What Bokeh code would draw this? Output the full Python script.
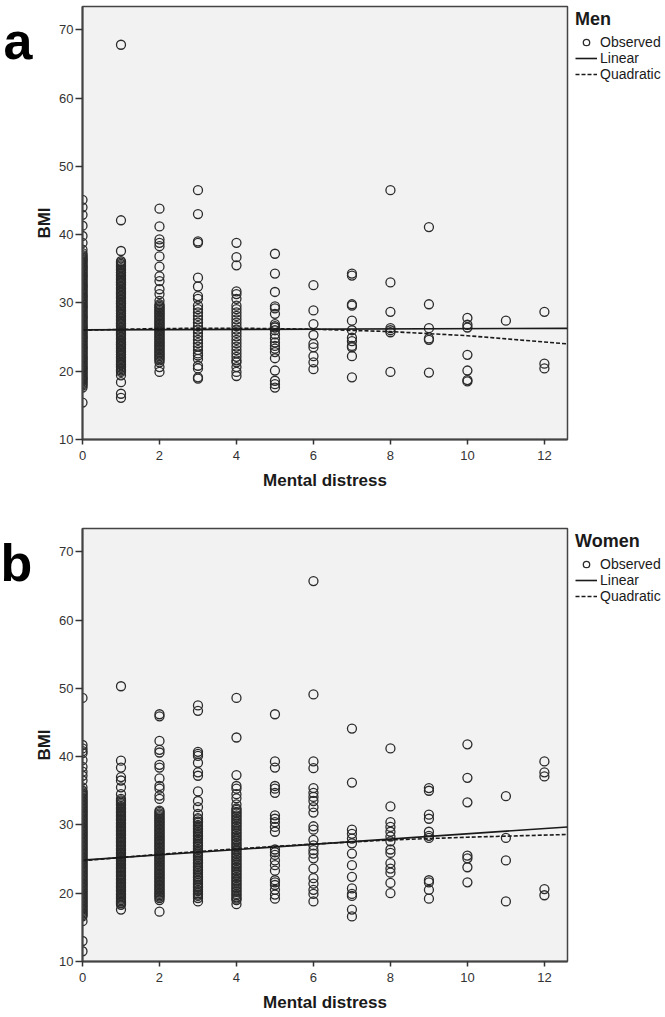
from bokeh.plotting import figure
from bokeh.models import Range1d, Legend, LegendItem, Label, FixedTicker
from bokeh.layouts import column
from bokeh.embed import file_html
from bokeh.resources import INLINE

# ---------------- data: BMI observations per mental-distress level ----------------
MEN_0 = [45.1, 44.0, 42.9, 41.3, 39.8, 38.8, 37.8, 37.3, 37.0, 36.6, 36.3, 35.9, 35.5, 35.2, 34.8,
         34.4, 34.0, 33.7, 33.3, 32.9, 32.5, 32.2, 31.8, 31.4, 31.0, 30.7, 30.3, 29.9, 29.5, 29.2,
         28.8, 28.4, 28.0, 27.7, 27.3, 26.9, 26.5, 26.2, 25.8, 25.4, 25.0, 24.7, 24.3, 23.9, 23.5,
         23.2, 22.8, 22.4, 22.0, 21.7, 21.3, 20.9, 20.5, 20.2, 19.8, 19.4, 19.0, 18.7, 18.3, 17.9,
         17.6, 15.4,
         36.8, 36.4, 36.1, 35.7, 35.3, 35.0, 34.6, 34.2, 33.9, 33.5, 33.1, 32.7, 32.4, 32.0, 31.6,
         31.2, 30.9, 30.5, 30.1, 29.7, 29.4, 29.0, 28.6, 28.2, 27.9, 27.5, 27.1, 26.7, 26.4, 26.0,
         25.6, 25.2, 24.9, 24.5, 24.1, 23.7, 23.4, 23.0, 22.6, 22.2, 21.9, 21.5, 21.1, 20.7, 20.4,
         20.0, 19.6, 19.2, 18.9, 18.5, 18.1]
MEN_1 = [67.8, 42.1, 37.6, 36.1, 35.7, 35.3, 34.9, 34.5, 34.2, 33.8, 33.4, 33.0, 32.7, 32.3, 31.9,
         31.5, 31.2, 30.8, 30.4, 30.0, 29.7, 29.3, 28.9, 28.5, 28.2, 27.8, 27.4, 27.0, 26.7, 26.3,
         25.9, 25.5, 25.2, 24.8, 24.4, 24.0, 23.7, 23.3, 22.9, 22.5, 22.2, 21.8, 21.4, 21.0, 20.7,
         20.3, 19.9, 19.4, 18.4, 16.7, 16.1,
         35.9, 35.5, 35.1, 34.7, 34.4, 34.0, 33.6, 33.2, 32.9, 32.5, 32.1, 31.7, 31.4, 31.0, 30.6,
         30.2, 29.9, 29.5, 29.1, 28.7, 28.4, 28.0, 27.6, 27.2, 26.9, 26.5, 26.1, 25.7, 25.4, 25.0,
         24.6, 24.2, 23.9, 23.5, 23.1, 22.7, 22.4, 22.0, 21.6, 21.2, 20.9, 20.5, 20.1]
MEN_2 = [43.8, 41.2, 39.3, 38.8, 38.3, 36.8, 35.3, 33.9, 33.2, 32.0, 31.3, 30.3, 29.8, 29.4, 29.0,
         28.6, 28.2, 27.8, 27.4, 27.0, 26.6, 26.2, 25.8, 25.4, 25.0, 24.6, 24.2, 23.8, 23.4, 23.0,
         22.6, 22.2, 21.8, 21.3, 20.6, 19.9,
         29.6, 29.2, 28.8, 28.4, 28.0, 27.6, 27.2, 26.8, 26.4, 26.0, 25.6, 25.2, 24.8, 24.4, 24.0,
         23.6, 23.2, 22.8, 22.4, 22.0, 21.6]
MEN_3 = [46.5, 43.0, 39.0, 38.8, 33.7, 32.4, 31.0, 30.6, 29.6, 29.1, 28.6, 28.1, 27.6, 27.1, 26.6,
         26.1, 25.6, 25.1, 24.6, 24.1, 23.6, 23.1, 22.6, 22.3, 21.8, 20.8, 20.4, 19.1, 18.9]
MEN_4 = [38.8, 36.7, 35.5, 31.7, 31.3, 30.6, 29.6, 29.1, 28.6, 28.1, 27.6, 27.1, 26.6, 26.1, 25.6,
         25.1, 24.6, 24.1, 23.6, 23.1, 22.6, 22.1, 21.6, 21.3, 20.6, 19.9, 19.3]
MEN_5 = [37.2, 34.3, 31.6, 29.5, 29.2, 28.4, 26.9, 26.6, 26.4, 26.0, 25.4, 24.8, 24.2, 23.7, 23.3,
         22.8, 21.9, 20.1, 18.6, 18.1, 17.6]
MEN_6 = [32.6, 28.9, 26.9, 25.3, 24.0, 23.5, 22.2, 21.3, 20.3]
MEN_7 = [34.3, 34.0, 29.8, 29.6, 27.4, 26.0, 24.9, 24.4, 23.7, 23.5, 22.2, 19.1]
MEN_8 = [46.5, 33.0, 28.7, 26.3, 26.0, 25.7, 19.9]
MEN_9 = [41.1, 29.8, 26.3, 24.8, 24.6, 19.8]
MEN_10 = [27.8, 26.8, 26.4, 22.4, 20.1, 18.7, 18.5]
MEN_11 = [27.4]
MEN_12 = [28.7, 21.1, 20.4]

WOMEN_0 = [48.6, 41.7, 41.2, 40.8, 40.5, 39.5, 38.5, 37.8, 37.2, 36.5, 35.5, 35.0, 34.6, 34.2, 33.8,
           33.4, 33.0, 32.6, 32.2, 31.8, 31.4, 31.0, 30.6, 30.2, 29.8, 29.4, 29.0, 28.6, 28.2, 27.8,
           27.4, 27.0, 26.6, 26.2, 25.8, 25.4, 25.0, 24.6, 24.2, 23.8, 23.4, 23.0, 22.6, 22.2, 21.8,
           21.4, 21.0, 20.6, 20.2, 19.8, 19.4, 19.0, 18.6, 18.2, 17.8, 17.4, 17.0, 16.6, 15.9, 13.0,
           11.5,
           34.8, 34.4, 34.0, 33.6, 33.2, 32.8, 32.4, 32.0, 31.6, 31.2, 30.8, 30.4, 30.0, 29.6, 29.2,
           28.8, 28.4, 28.0, 27.6, 27.2, 26.8, 26.4, 26.0, 25.6, 25.2, 24.8, 24.4, 24.0, 23.6, 23.2,
           22.8, 22.4, 22.0, 21.6, 21.2, 20.8, 20.4, 20.0, 19.6, 19.2, 18.8, 18.4, 18.0, 17.6, 17.2,
           16.8]
WOMEN_1 = [50.3, 39.4, 38.4, 37.0, 36.5, 35.5, 34.5, 33.8, 33.4, 33.0, 32.6, 32.2, 31.8, 31.4, 31.0,
           30.6, 30.2, 29.8, 29.4, 29.0, 28.6, 28.2, 27.8, 27.4, 27.0, 26.6, 26.2, 25.8, 25.4, 25.0,
           24.6, 24.2, 23.8, 23.4, 23.0, 22.6, 22.2, 21.8, 21.4, 21.0, 20.6, 20.2, 19.8, 19.4, 19.0,
           18.6, 18.3, 17.6,
           33.6, 33.2, 32.8, 32.4, 32.0, 31.6, 31.2, 30.8, 30.4, 30.0, 29.6, 29.2, 28.8, 28.4, 28.0,
           27.6, 27.2, 26.8, 26.4, 26.0, 25.6, 25.2, 24.8, 24.4, 24.0, 23.6, 23.2, 22.8, 22.4, 22.0,
           21.6, 21.2, 20.8, 20.4, 20.0, 19.6, 19.2, 18.8, 18.5]
WOMEN_2 = [46.2, 45.9, 42.3, 41.0, 40.6, 38.8, 38.4, 36.8, 35.7, 35.3, 34.3, 33.8, 32.1, 31.7, 31.3,
           30.9, 30.5, 30.1, 29.7, 29.3, 28.9, 28.5, 28.1, 27.7, 27.3, 26.9, 26.5, 26.1, 25.7, 25.3,
           24.9, 24.5, 24.1, 23.7, 23.3, 22.9, 22.5, 22.1, 21.7, 21.3, 20.9, 20.5, 20.1, 19.7, 19.3,
           19.0, 17.3,
           31.9, 31.5, 31.1, 30.7, 30.3, 29.9, 29.5, 29.1, 28.7, 28.3, 27.9, 27.5, 27.1, 26.7, 26.3,
           25.9, 25.5, 25.1, 24.7, 24.3, 23.9, 23.5, 23.1, 22.7, 22.3, 21.9, 21.5, 21.1, 20.7, 20.3,
           19.9, 19.5]
WOMEN_3 = [47.5, 46.7, 40.7, 40.4, 40.1, 39.1, 37.7, 37.2, 34.9, 33.5, 32.6, 31.6, 31.0, 30.5, 30.0,
           29.5, 29.0, 28.5, 28.0, 27.5, 27.0, 26.5, 26.0, 25.5, 25.0, 24.5, 24.0, 23.5, 23.0, 22.5,
           22.0, 21.5, 21.0, 20.5, 20.0, 19.6, 19.3, 18.8,
           30.8, 30.3, 29.8, 29.3, 28.8, 28.3, 27.8, 27.3, 26.8, 26.3, 25.8, 25.3, 24.8, 24.3, 23.8,
           23.3, 22.8, 22.3, 21.8, 21.3, 20.8, 20.3, 19.8]
WOMEN_4 = [48.6, 42.8, 37.3, 35.7, 35.3, 34.5, 33.9, 33.0, 32.4, 31.9, 31.4, 30.9, 30.4, 29.9, 29.4,
           28.9, 28.4, 27.9, 27.4, 26.9, 26.4, 25.9, 25.4, 24.9, 24.4, 23.9, 23.4, 22.9, 22.4, 21.9,
           21.4, 20.9, 20.4, 19.9, 19.4, 19.0, 18.4,
           32.2, 31.7, 31.2, 30.7, 30.2, 29.7, 29.2, 28.7, 28.2, 27.7, 27.2, 26.7, 26.2, 25.7, 25.2,
           24.7, 24.2, 23.7, 23.2, 22.7, 22.2, 21.7, 21.2, 20.7, 20.2, 19.7, 19.2]
WOMEN_5 = [46.2, 39.3, 38.4, 35.7, 35.3, 34.7, 31.4, 30.9, 30.4, 29.7, 29.0, 26.4, 26.0, 25.6, 24.8,
           24.1, 23.3, 21.9, 21.6, 21.2, 20.5, 19.8, 19.2]
WOMEN_6 = [65.7, 49.1, 39.3, 38.3, 35.4, 34.7, 34.1, 33.5, 32.6, 31.8, 29.8, 29.3, 27.8, 27.0, 26.3,
           25.8, 25.1, 23.6, 22.2, 21.4, 20.5, 19.9, 18.8]
WOMEN_7 = [44.1, 36.2, 29.3, 28.7, 28.0, 27.3, 25.8, 24.1, 22.4, 20.7, 19.9, 19.6, 17.6, 16.6]
WOMEN_8 = [41.2, 32.7, 30.4, 29.7, 29.0, 28.3, 27.6, 26.4, 25.9, 24.4, 23.6, 23.0, 21.5, 20.0]
WOMEN_9 = [35.4, 35.0, 31.5, 30.9, 29.0, 28.4, 28.1, 21.9, 21.6, 20.5, 19.2]
WOMEN_10 = [41.8, 36.9, 33.3, 25.5, 25.1, 23.8, 21.6]
WOMEN_11 = [34.2, 28.1, 24.8, 18.8]
WOMEN_12 = [39.3, 37.7, 37.1, 20.6, 19.7]

# fitted curves
MEN_LIN_X = [0, 12.6]
MEN_LIN_Y = [26.05, 26.27]
MEN_QUAD_X = [0, 2, 4, 6, 8, 10, 12.6]
MEN_QUAD_Y = [26.0, 26.25, 26.3, 26.15, 25.8, 25.2, 24.0]
WOMEN_LIN_X = [0, 12.6]
WOMEN_LIN_Y = [24.85, 29.7]
WOMEN_QUAD_X = [0, 2, 4, 6, 8, 10, 12.6]
WOMEN_QUAD_Y = [24.75, 25.7, 26.5, 27.2, 27.8, 28.2, 28.6]

X_TICKS = [0, 2, 4, 6, 8, 10, 12]
Y_TICKS = [10, 20, 30, 40, 50, 60, 70]

MEN_GROUPS = [MEN_0, MEN_1, MEN_2, MEN_3, MEN_4, MEN_5, MEN_6, MEN_7, MEN_8, MEN_9, MEN_10, MEN_11, MEN_12]
WOMEN_GROUPS = [WOMEN_0, WOMEN_1, WOMEN_2, WOMEN_3, WOMEN_4, WOMEN_5, WOMEN_6, WOMEN_7, WOMEN_8,
                WOMEN_9, WOMEN_10, WOMEN_11, WOMEN_12]

FONT = "Liberation Sans"
INK = "#1a1a1a"
LEFT = 82
RIGHT = 98
FRAME_W = 485
FRAME_H = 433


def panel(groups, lin_x, lin_y, quad_x, quad_y, title, letter, top, bottom):
    xs, ys = [], []
    for level, vals in enumerate(groups):
        xs += [level] * len(vals)
        ys += vals
    p = figure(frame_width=FRAME_W, frame_height=FRAME_H, output_backend="svg", toolbar_location=None,
               x_range=Range1d(0, 12.6), y_range=Range1d(10, 73.4),
               min_border_left=LEFT, min_border_right=RIGHT, min_border_top=top, min_border_bottom=bottom)
    p.background_fill_color = "#f2f2f2"
    p.border_fill_color = "white"
    p.outline_line_color = "#444444"
    p.outline_line_width = 1.5
    p.grid.visible = False

    for ax in (p.xaxis[0], p.yaxis[0]):
        ax.axis_line_color = "#444444"
        ax.axis_line_width = 2
        ax.major_tick_line_color = "#333333"
        ax.major_tick_line_width = 1.5
        ax.major_tick_in = 0
        ax.minor_tick_line_color = None
        ax.major_label_text_font = FONT
        ax.major_label_text_font_size = "13px"
        ax.major_label_text_color = "#333333"
        ax.axis_label_text_font = FONT
        ax.axis_label_text_font_size = "17px"
        ax.axis_label_text_font_style = "bold"
        ax.axis_label_text_color = INK
    p.xaxis.ticker = FixedTicker(ticks=X_TICKS)
    p.yaxis.ticker = FixedTicker(ticks=Y_TICKS)
    p.xaxis.major_tick_out = 5
    p.yaxis.major_tick_out = 7
    p.xaxis.major_label_standoff = 6
    p.yaxis.major_label_standoff = 2
    p.xaxis.axis_label = "Mental distress"
    p.yaxis.axis_label = "BMI"
    p.xaxis.axis_label_standoff = 8
    p.yaxis.axis_label_standoff = 2

    sc = p.scatter(xs, ys, marker="circle", size=9, fill_color=None, line_color="#2b2b2b", line_width=1.3)
    lin = p.line(lin_x, lin_y, line_color=INK, line_width=1.6)
    quad = p.line(quad_x, quad_y, line_color=INK, line_width=1.6, line_dash="4 2")

    items = [LegendItem(label="Observed", renderers=[sc]),
             LegendItem(label="Linear", renderers=[lin]),
             LegendItem(label="Quadratic", renderers=[quad])]
    legend = Legend(items=items, title=title, location=(8, FRAME_H - 76), margin=0)
    legend.title_standoff = 4
    legend.title_text_font = FONT
    legend.title_text_font_size = "18px"
    legend.title_text_font_style = "bold"
    legend.title_text_color = INK
    legend.label_text_font = FONT
    legend.label_text_font_size = "14px"
    legend.label_text_color = INK
    legend.label_height = 16
    legend.glyph_height = 16
    legend.glyph_width = 22
    legend.label_standoff = 3
    legend.spacing = 0
    legend.padding = 0
    legend.border_line_color = None
    legend.background_fill_alpha = 0
    p.add_layout(legend, "right")

    p.add_layout(Label(x=0, y=FRAME_H - 34, x_units="screen", y_units="screen", text=letter,
                       text_font=FONT, text_font_size="52px", text_font_style="bold",
                       text_color="#000000", text_baseline="alphabetic"), "left")
    return p


p1 = panel(MEN_GROUPS, MEN_LIN_X, MEN_LIN_Y, MEN_QUAD_X, MEN_QUAD_Y, "Men", "a", 6, 58)
p2 = panel(WOMEN_GROUPS, WOMEN_LIN_X, WOMEN_LIN_Y, WOMEN_QUAD_X, WOMEN_QUAD_Y, "Women", "b", 31, 52)
layout = column(p1, p2, spacing=0)

open("out.html", "w").write(file_html(layout, INLINE))
